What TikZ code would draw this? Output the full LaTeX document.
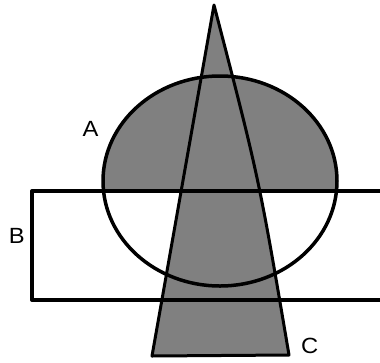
\documentclass[tikz,border=0pt]{standalone}
\usepackage{fontspec}
\setmainfont{Liberation Sans}
\usetikzlibrary{positioning}
\definecolor{sgrey}{HTML}{808080}
\tikzset{
  outline/.style={draw=black, line width=4pt, line join=round},
  thin outline/.style={draw=black, line width=3pt, line join=round},
  shade/.style={fill=sgrey},
  lbl/.style={font=\fontsize{22}{22}\selectfont, inner sep=0pt, xscale=1.08},
}

\begin{document}
\begin{tikzpicture}[x=1pt, y=-1pt]
  \useasboundingbox (0,0) rectangle (380,362);
  % grey cap of the ellipse above the band
  \begin{scope}
    \clip (0,0) rectangle (380,191);
    \fill[shade] (220,181) ellipse [x radius=117, y radius=105];
  \end{scope}
  % the cone
  \fill[shade] (214,5) -- (152,356) -- (289,355) .. controls (259,178) .. (214,5) -- cycle;

  % outlines
  \draw[line width=3.5pt] (220,181) ellipse [x radius=117, y radius=105];
  \draw[thin outline] (214,5) -- (152,356) -- (289,355) .. controls (259,178) .. (214,5) -- cycle;
  \draw[outline] (380,191) -- (32,191) -- (32,300) -- (380,300);

  \node[lbl] (labA) at (90.5,129) {A};
  \node[lbl] (labB) at (16.7,235.5) {B};
  \node[lbl] (labC) at (309.7,346) {C};
\end{tikzpicture}
\end{document}
